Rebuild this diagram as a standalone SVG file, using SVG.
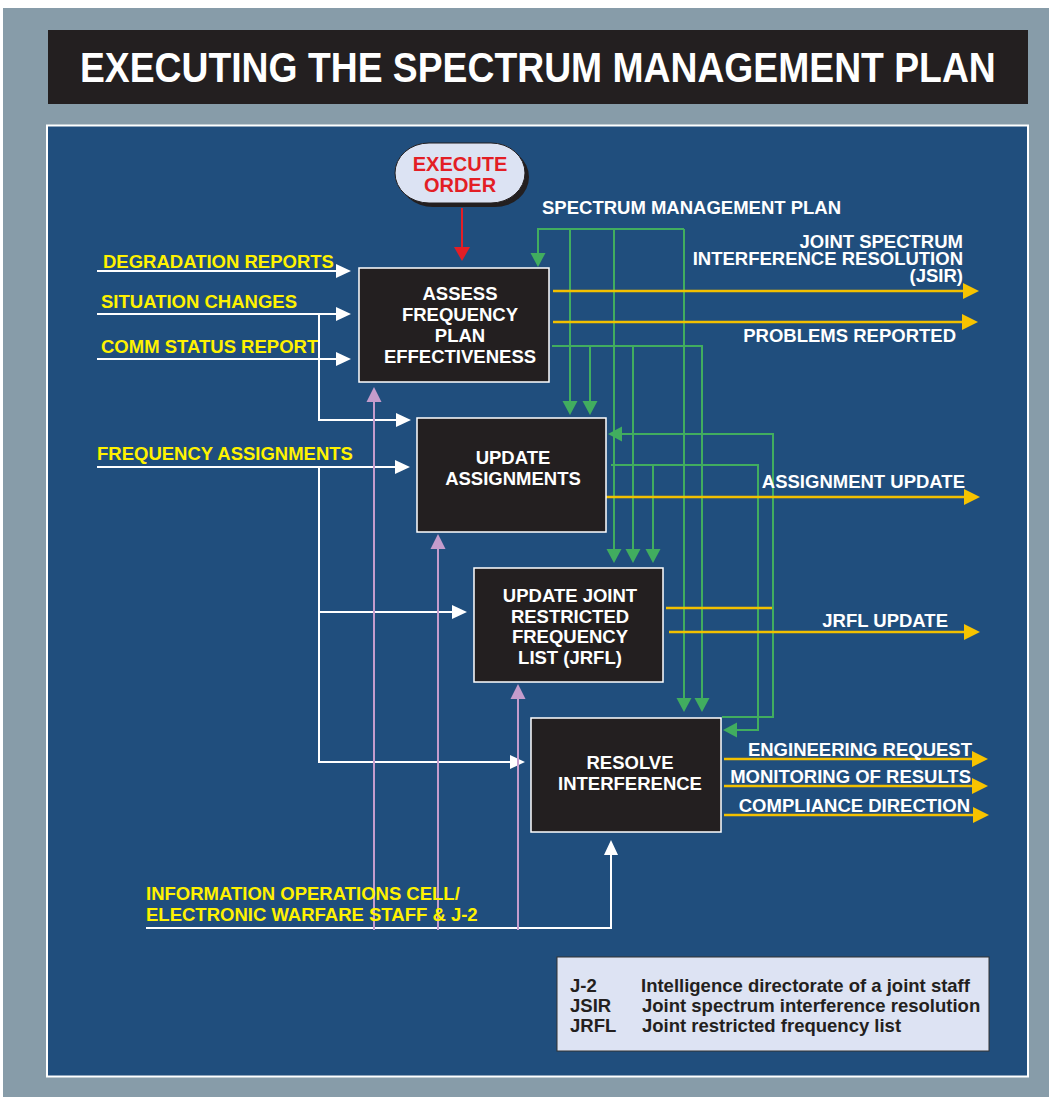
<svg xmlns="http://www.w3.org/2000/svg" width="1049" height="1097" viewBox="0 0 1049 1097">
<style>
.t{font-family:"Liberation Sans",Arial,Helvetica,sans-serif;font-weight:bold;font-size:18.5px}
.y{fill:#fff200}
.w{fill:#ffffff}
.e{text-anchor:end}
.m{text-anchor:middle}
.box{fill:#231f20;stroke:#ffffff;stroke-width:1.5}
.g{stroke:#41ad5f;stroke-width:2;fill:none}
.wl{stroke:#ffffff;stroke-width:2;fill:none}
.yl{stroke:#f2c000;stroke-width:2.5;fill:none}
.pl{stroke:#c49ccc;stroke-width:2;fill:none}
.rl{stroke:#e31e25;stroke-width:2;fill:none}
</style>
<defs>
<marker id="aw" markerUnits="userSpaceOnUse" markerWidth="20" markerHeight="20" viewBox="0 -10 20 20" refX="0" refY="0" orient="auto" overflow="visible"><path d="M0,-7 L15,0 L0,7z" fill="#ffffff"/></marker>
<marker id="ay" markerUnits="userSpaceOnUse" markerWidth="20" markerHeight="20" viewBox="0 -10 20 20" refX="0" refY="0" orient="auto" overflow="visible"><path d="M0,-8 L16,0 L0,8z" fill="#f7c300"/></marker>
<marker id="ag" markerUnits="userSpaceOnUse" markerWidth="20" markerHeight="20" viewBox="0 -10 20 20" refX="0" refY="0" orient="auto" overflow="visible"><path d="M0,-7.5 L14,0 L0,7.5z" fill="#41ad5f"/></marker>
<marker id="ap" markerUnits="userSpaceOnUse" markerWidth="20" markerHeight="20" viewBox="0 -10 20 20" refX="0" refY="0" orient="auto" overflow="visible"><path d="M0,-7.5 L15,0 L0,7.5z" fill="#c49ccc"/></marker>
<marker id="ar" markerUnits="userSpaceOnUse" markerWidth="20" markerHeight="20" viewBox="0 -10 20 20" refX="0" refY="0" orient="auto" overflow="visible"><path d="M0,-8 L14,0 L0,8z" fill="#e31e25"/></marker>
</defs>

<rect x="0" y="0" width="1049" height="1097" fill="#ffffff"/>
<rect x="3" y="8" width="1046" height="1089" fill="#879ca9"/>
<g id="title">
<rect x="48" y="30" width="980" height="74" fill="#231f20"/>
<text x="80" y="73.2" class="t w" style="font-size:37.3px" transform="scale(1,1.12)">EXECUTING THE SPECTRUM MANAGEMENT PLAN</text>
</g>
<rect x="47" y="125.5" width="981" height="951" fill="#204e7d" stroke="#ffffff" stroke-width="2"/>

<g id="connectors">
<path class="rl" d="M462,208 V247" marker-end="url(#ar)"/>
<path class="wl" d="M97,271 H336" marker-end="url(#aw)"/>
<path class="wl" d="M97,314 H336" marker-end="url(#aw)"/>
<path class="wl" d="M97,359 H336" marker-end="url(#aw)"/>
<path class="wl" d="M319,314 V420 H396" marker-end="url(#aw)"/>
<path class="wl" d="M97,467 H395" marker-end="url(#aw)"/>
<path class="wl" d="M319,467 V762 H510" marker-end="url(#aw)"/>
<path class="wl" d="M319,612 H452" marker-end="url(#aw)"/>
<path class="wl" d="M146,928 H611 V855" marker-end="url(#aw)"/>
<path class="pl" d="M374,930 V402" marker-end="url(#ap)"/>
<path class="pl" d="M438,930 V549" marker-end="url(#ap)"/>
<path class="pl" d="M518,930 V699" marker-end="url(#ap)"/>
<path class="g" d="M684,229 H538 V253" marker-end="url(#ag)"/>
<path class="g" d="M684,229 V698" marker-end="url(#ag)"/>
<path class="g" d="M570,229 V401" marker-end="url(#ag)"/>
<path class="g" d="M614,229 V549" marker-end="url(#ag)"/>
<path class="g" d="M552,346 H702 V698" marker-end="url(#ag)"/>
<path class="g" d="M590,346 V401" marker-end="url(#ag)"/>
<path class="g" d="M633,346 V549" marker-end="url(#ag)"/>
<path class="g" d="M611,465 H758 V730 H737" marker-end="url(#ag)"/>
<path class="g" d="M653,465 V549" marker-end="url(#ag)"/>
<path class="g" d="M722,717 H773 V434 H622" marker-end="url(#ag)"/>
<path class="yl" d="M666,608 H772"/>
<path class="yl" d="M553,291 H963" marker-end="url(#ay)"/>
<path class="yl" d="M553,322 H962" marker-end="url(#ay)"/>
<path class="yl" d="M606,497 H964" marker-end="url(#ay)"/>
<path class="yl" d="M669,632 H964" marker-end="url(#ay)"/>
<path class="yl" d="M724,759 H972" marker-end="url(#ay)"/>
<path class="yl" d="M724,786 H972" marker-end="url(#ay)"/>
<path class="yl" d="M724,815 H973" marker-end="url(#ay)"/>
</g>

<g id="execute-order">
<rect x="399" y="147" width="130" height="60" rx="34" ry="30" fill="#231f20"/>
<rect x="395" y="143" width="130" height="60" rx="34" ry="30" fill="#dce3f3" stroke="#231f20" stroke-width="1"/>
<text x="460" y="171" class="t m" style="font-size:20px;fill:#e31e25">EXECUTE</text>
<text x="460" y="192" class="t m" style="font-size:20px;fill:#e31e25">ORDER</text>
</g>

<g id="assess">
<rect class="box" x="359" y="268" width="190" height="114"/>
<text x="460" y="300" class="t w m">ASSESS</text>
<text x="460" y="321" class="t w m">FREQUENCY</text>
<text x="460" y="342" class="t w m">PLAN</text>
<text x="460" y="363" class="t w m">EFFECTIVENESS</text>
</g>

<g id="update-assignments">
<rect class="box" x="417" y="418" width="189" height="114"/>
<text x="513" y="464" class="t w m">UPDATE</text>
<text x="513" y="485" class="t w m">ASSIGNMENTS</text>
</g>

<g id="update-jrfl">
<rect class="box" x="474" y="568" width="189" height="114"/>
<text x="570" y="602" class="t w m">UPDATE JOINT</text>
<text x="570" y="623" class="t w m">RESTRICTED</text>
<text x="570" y="643" class="t w m">FREQUENCY</text>
<text x="570" y="664" class="t w m">LIST (JRFL)</text>
</g>

<g id="resolve">
<rect class="box" x="531" y="718" width="190" height="114"/>
<text x="630" y="769" class="t w m">RESOLVE</text>
<text x="630" y="790" class="t w m">INTERFERENCE</text>
</g>

<g id="labels">
<text x="103" y="268" class="t y">DEGRADATION REPORTS</text>
<text x="101" y="308" class="t y">SITUATION CHANGES</text>
<text x="101" y="353" class="t y">COMM STATUS REPORT</text>
<text x="97" y="460" class="t y">FREQUENCY ASSIGNMENTS</text>
<text x="146" y="900" class="t y">INFORMATION OPERATIONS CELL/</text>
<text x="146" y="921" class="t y">ELECTRONIC WARFARE STAFF &amp; J-2</text>
<text x="542" y="214" class="t w">SPECTRUM MANAGEMENT PLAN</text>
<text class="t w e"><tspan x="963" y="248">JOINT SPECTRUM</tspan><tspan x="963" y="265">INTERFERENCE RESOLUTION</tspan><tspan x="963" y="282">(JSIR)</tspan></text>
<text x="956" y="342" class="t w e">PROBLEMS REPORTED</text>
<text x="965" y="488" class="t w e">ASSIGNMENT UPDATE</text>
<text x="948" y="627" class="t w e">JRFL UPDATE</text>
<text x="972" y="756" class="t w e">ENGINEERING REQUEST</text>
<text x="971" y="783" class="t w e">MONITORING OF RESULTS</text>
<text x="970" y="812" class="t w e">COMPLIANCE DIRECTION</text>
</g>

<g id="legend">
<rect x="557" y="957" width="432" height="94" fill="#dde3f3" stroke="#333333" stroke-width="1"/>
<text x="570" y="992" class="t" fill="#231f20">J-2</text>
<text x="570" y="1012" class="t" fill="#231f20">JSIR</text>
<text x="570" y="1032" class="t" fill="#231f20">JRFL</text>
<text x="641" y="992" class="t" fill="#231f20">Intelligence directorate of a joint staff</text>
<text x="642" y="1012" class="t" fill="#231f20">Joint spectrum interference resolution</text>
<text x="642" y="1032" class="t" fill="#231f20">Joint restricted frequency list</text>
</g>
</svg>
